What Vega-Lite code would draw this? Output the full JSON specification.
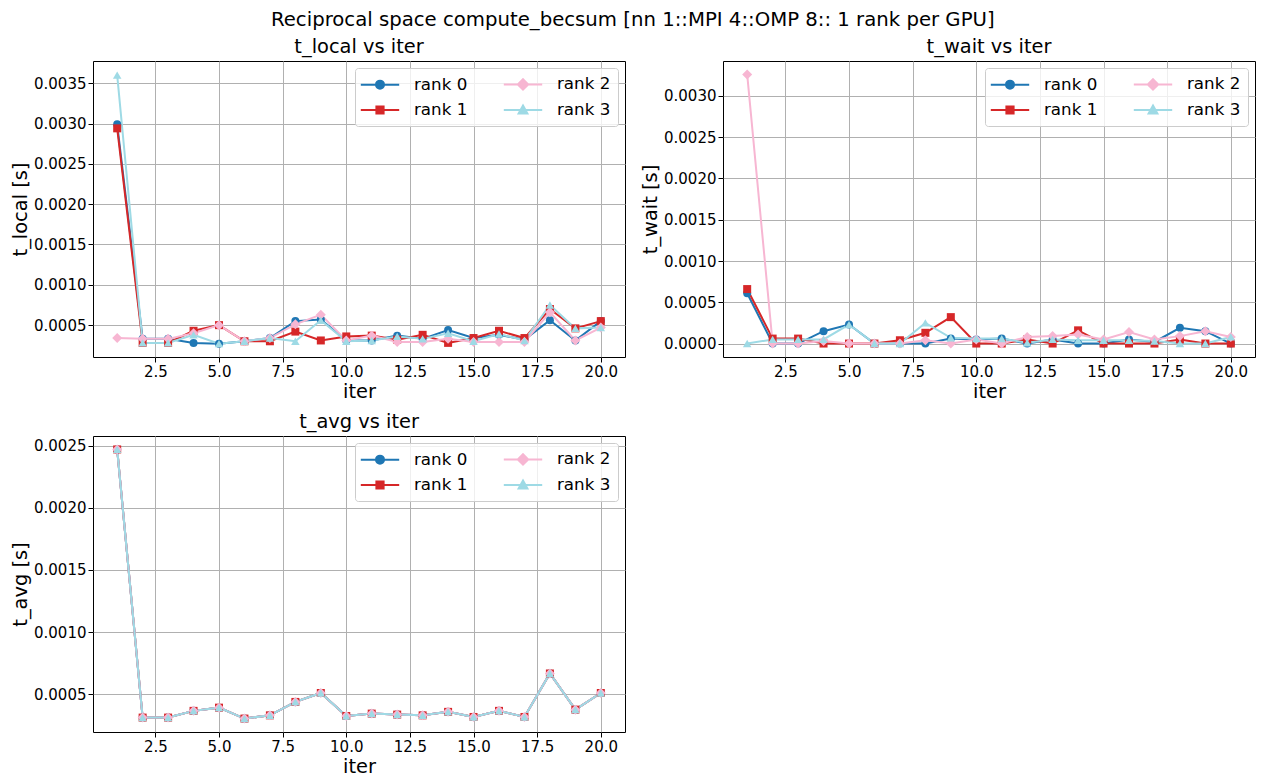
{
  "$schema": "https://vega.github.io/schema/vega-lite/v6.json",
  "background": "white",
  "padding": {"left": 10, "top": 10, "right": 2, "bottom": 2},
  "title": {"text": "Reciprocal space compute_becsum [nn 1::MPI 4::OMP 8:: 1 rank per GPU]", "fontSize": 19.7, "font": "DejaVu Sans", "fontWeight": "normal", "color": "black", "anchor": "middle", "offset": 6},
  "columns": 2,
  "spacing": {"row": 79, "column": 98},
  "bounds": "flush",
  "data": {"name": "d"},
  "datasets": {
    "d": [
      {"iter": 1, "rank": "rank 0", "t_local": 0.00299, "t_wait": 0.00061, "t_avg": 0.00247},
      {"iter": 2, "rank": "rank 0", "t_local": 0.00033, "t_wait": 0.0, "t_avg": 0.000312},
      {"iter": 3, "rank": "rank 0", "t_local": 0.00033, "t_wait": 0.0, "t_avg": 0.000312},
      {"iter": 4, "rank": "rank 0", "t_local": 0.00028, "t_wait": 0.00015, "t_avg": 0.000366},
      {"iter": 5, "rank": "rank 0", "t_local": 0.00027, "t_wait": 0.00023, "t_avg": 0.000392},
      {"iter": 6, "rank": "rank 0", "t_local": 0.0003, "t_wait": 0.0, "t_avg": 0.000304},
      {"iter": 7, "rank": "rank 0", "t_local": 0.00034, "t_wait": 0.0, "t_avg": 0.00033},
      {"iter": 8, "rank": "rank 0", "t_local": 0.00055, "t_wait": 0.0, "t_avg": 0.000438},
      {"iter": 9, "rank": "rank 0", "t_local": 0.00057, "t_wait": 0.00006, "t_avg": 0.00051},
      {"iter": 10, "rank": "rank 0", "t_local": 0.00031, "t_wait": 0.00005, "t_avg": 0.000325},
      {"iter": 11, "rank": "rank 0", "t_local": 0.00031, "t_wait": 0.00006, "t_avg": 0.000344},
      {"iter": 12, "rank": "rank 0", "t_local": 0.00037, "t_wait": 0.0, "t_avg": 0.000336},
      {"iter": 13, "rank": "rank 0", "t_local": 0.00033, "t_wait": 0.00005, "t_avg": 0.00033},
      {"iter": 14, "rank": "rank 0", "t_local": 0.00044, "t_wait": 0.0, "t_avg": 0.000358},
      {"iter": 15, "rank": "rank 0", "t_local": 0.00034, "t_wait": 0.0, "t_avg": 0.000317},
      {"iter": 16, "rank": "rank 0", "t_local": 0.00038, "t_wait": 0.00005, "t_avg": 0.000366},
      {"iter": 17, "rank": "rank 0", "t_local": 0.00032, "t_wait": 0.00002, "t_avg": 0.000317},
      {"iter": 18, "rank": "rank 0", "t_local": 0.00056, "t_wait": 0.00019, "t_avg": 0.000667},
      {"iter": 19, "rank": "rank 0", "t_local": 0.00031, "t_wait": 0.00015, "t_avg": 0.000376},
      {"iter": 20, "rank": "rank 0", "t_local": 0.00055, "t_wait": 0.0, "t_avg": 0.00051},
      {"iter": 1, "rank": "rank 1", "t_local": 0.00294, "t_wait": 0.00066, "t_avg": 0.00247},
      {"iter": 2, "rank": "rank 1", "t_local": 0.00028, "t_wait": 0.00006, "t_avg": 0.000312},
      {"iter": 3, "rank": "rank 1", "t_local": 0.00028, "t_wait": 0.00006, "t_avg": 0.000312},
      {"iter": 4, "rank": "rank 1", "t_local": 0.00043, "t_wait": 0.0, "t_avg": 0.000366},
      {"iter": 5, "rank": "rank 1", "t_local": 0.0005, "t_wait": 0.0, "t_avg": 0.000392},
      {"iter": 6, "rank": "rank 1", "t_local": 0.0003, "t_wait": 0.0, "t_avg": 0.000304},
      {"iter": 7, "rank": "rank 1", "t_local": 0.0003, "t_wait": 0.00004, "t_avg": 0.00033},
      {"iter": 8, "rank": "rank 1", "t_local": 0.00042, "t_wait": 0.00013, "t_avg": 0.000438},
      {"iter": 9, "rank": "rank 1", "t_local": 0.00031, "t_wait": 0.00032, "t_avg": 0.00051},
      {"iter": 10, "rank": "rank 1", "t_local": 0.00036, "t_wait": 0.0, "t_avg": 0.000325},
      {"iter": 11, "rank": "rank 1", "t_local": 0.00037, "t_wait": 0.0, "t_avg": 0.000344},
      {"iter": 12, "rank": "rank 1", "t_local": 0.00032, "t_wait": 0.00005, "t_avg": 0.000336},
      {"iter": 13, "rank": "rank 1", "t_local": 0.00038, "t_wait": 0.0, "t_avg": 0.00033},
      {"iter": 14, "rank": "rank 1", "t_local": 0.00028, "t_wait": 0.00016, "t_avg": 0.000358},
      {"iter": 15, "rank": "rank 1", "t_local": 0.00034, "t_wait": 0.0, "t_avg": 0.000317},
      {"iter": 16, "rank": "rank 1", "t_local": 0.00043, "t_wait": 0.0, "t_avg": 0.000366},
      {"iter": 17, "rank": "rank 1", "t_local": 0.00034, "t_wait": 0.0, "t_avg": 0.000317},
      {"iter": 18, "rank": "rank 1", "t_local": 0.0007, "t_wait": 0.00005, "t_avg": 0.000667},
      {"iter": 19, "rank": "rank 1", "t_local": 0.00046, "t_wait": 0.0, "t_avg": 0.000376},
      {"iter": 20, "rank": "rank 1", "t_local": 0.00055, "t_wait": 0.0, "t_avg": 0.00051},
      {"iter": 1, "rank": "rank 2", "t_local": 0.00034, "t_wait": 0.00326, "t_avg": 0.00247},
      {"iter": 2, "rank": "rank 2", "t_local": 0.00033, "t_wait": 0.0, "t_avg": 0.000312},
      {"iter": 3, "rank": "rank 2", "t_local": 0.00033, "t_wait": 0.0, "t_avg": 0.000312},
      {"iter": 4, "rank": "rank 2", "t_local": 0.0004, "t_wait": 0.00003, "t_avg": 0.000366},
      {"iter": 5, "rank": "rank 2", "t_local": 0.0005, "t_wait": 0.0, "t_avg": 0.000392},
      {"iter": 6, "rank": "rank 2", "t_local": 0.0003, "t_wait": 0.0, "t_avg": 0.000304},
      {"iter": 7, "rank": "rank 2", "t_local": 0.00034, "t_wait": 0.0, "t_avg": 0.00033},
      {"iter": 8, "rank": "rank 2", "t_local": 0.00051, "t_wait": 0.00004, "t_avg": 0.000438},
      {"iter": 9, "rank": "rank 2", "t_local": 0.00063, "t_wait": 0.0, "t_avg": 0.00051},
      {"iter": 10, "rank": "rank 2", "t_local": 0.00031, "t_wait": 0.00005, "t_avg": 0.000325},
      {"iter": 11, "rank": "rank 2", "t_local": 0.00037, "t_wait": 0.0, "t_avg": 0.000344},
      {"iter": 12, "rank": "rank 2", "t_local": 0.00029, "t_wait": 0.00008, "t_avg": 0.000336},
      {"iter": 13, "rank": "rank 2", "t_local": 0.00029, "t_wait": 0.00009, "t_avg": 0.00033},
      {"iter": 14, "rank": "rank 2", "t_local": 0.00033, "t_wait": 0.00011, "t_avg": 0.000358},
      {"iter": 15, "rank": "rank 2", "t_local": 0.00029, "t_wait": 0.00005, "t_avg": 0.000317},
      {"iter": 16, "rank": "rank 2", "t_local": 0.00029, "t_wait": 0.00014, "t_avg": 0.000366},
      {"iter": 17, "rank": "rank 2", "t_local": 0.00029, "t_wait": 0.00005, "t_avg": 0.000317},
      {"iter": 18, "rank": "rank 2", "t_local": 0.00066, "t_wait": 0.00009, "t_avg": 0.000667},
      {"iter": 19, "rank": "rank 2", "t_local": 0.00031, "t_wait": 0.00015, "t_avg": 0.000376},
      {"iter": 20, "rank": "rank 2", "t_local": 0.00047, "t_wait": 0.00008, "t_avg": 0.00051},
      {"iter": 1, "rank": "rank 3", "t_local": 0.0036, "t_wait": 0.0, "t_avg": 0.00247},
      {"iter": 2, "rank": "rank 3", "t_local": 0.00028, "t_wait": 0.00005, "t_avg": 0.000312},
      {"iter": 3, "rank": "rank 3", "t_local": 0.00028, "t_wait": 0.00005, "t_avg": 0.000312},
      {"iter": 4, "rank": "rank 3", "t_local": 0.00038, "t_wait": 0.00005, "t_avg": 0.000366},
      {"iter": 5, "rank": "rank 3", "t_local": 0.00027, "t_wait": 0.00023, "t_avg": 0.000392},
      {"iter": 6, "rank": "rank 3", "t_local": 0.0003, "t_wait": 0.0, "t_avg": 0.000304},
      {"iter": 7, "rank": "rank 3", "t_local": 0.00034, "t_wait": 0.0, "t_avg": 0.00033},
      {"iter": 8, "rank": "rank 3", "t_local": 0.0003, "t_wait": 0.00025, "t_avg": 0.000438},
      {"iter": 9, "rank": "rank 3", "t_local": 0.00056, "t_wait": 0.00007, "t_avg": 0.00051},
      {"iter": 10, "rank": "rank 3", "t_local": 0.0003, "t_wait": 0.00006, "t_avg": 0.000325},
      {"iter": 11, "rank": "rank 3", "t_local": 0.00031, "t_wait": 0.00006, "t_avg": 0.000344},
      {"iter": 12, "rank": "rank 3", "t_local": 0.00036, "t_wait": 0.00001, "t_avg": 0.000336},
      {"iter": 13, "rank": "rank 3", "t_local": 0.00033, "t_wait": 0.00005, "t_avg": 0.00033},
      {"iter": 14, "rank": "rank 3", "t_local": 0.0004, "t_wait": 0.00004, "t_avg": 0.000358},
      {"iter": 15, "rank": "rank 3", "t_local": 0.0003, "t_wait": 0.00004, "t_avg": 0.000317},
      {"iter": 16, "rank": "rank 3", "t_local": 0.00039, "t_wait": 0.00004, "t_avg": 0.000366},
      {"iter": 17, "rank": "rank 3", "t_local": 0.00031, "t_wait": 0.00003, "t_avg": 0.000317},
      {"iter": 18, "rank": "rank 3", "t_local": 0.00075, "t_wait": 0.0, "t_avg": 0.000667},
      {"iter": 19, "rank": "rank 3", "t_local": 0.00046, "t_wait": 0.0, "t_avg": 0.000376},
      {"iter": 20, "rank": "rank 3", "t_local": 0.00047, "t_wait": 0.00008, "t_avg": 0.00051}
    ]
  },
  "concat": [
    {
      "width": 532, "height": 296,
      "title": {"text": "t_local vs iter"},
      "encoding": {
        "x": {"field": "iter", "type": "quantitative", "scale": {"domain": [0.05, 20.95], "nice": false, "zero": false}, "axis": {"title": "iter", "values": [2.5, 5, 7.5, 10, 12.5, 15, 17.5, 20], "format": ".1f"}},
        "y": {"field": "t_local", "type": "quantitative", "scale": {"domain": [0.000105, 0.003775], "nice": false, "zero": false}, "axis": {"title": "t_local [s]", "values": [0.0005, 0.001, 0.0015, 0.002, 0.0025, 0.003, 0.0035], "format": ".4f"}}
      },
      "layer": [
        {"mark": {"type": "line", "strokeWidth": 2},
         "encoding": {
           "color": {"field": "rank", "type": "nominal", "scale": {"domain": ["rank 0", "rank 1", "rank 2", "rank 3"], "range": ["#1f77b4", "#d62728", "#f7b6d2", "#9edae5"]},
             "legend": {"title": null, "orient": "top-right", "offset": 7, "columns": 2, "labelFontSize": 16.7, "labelFont": "DejaVu Sans", "labelColor": "black", "symbolSize": 256, "symbolOffset": 9, "labelOffset": 25, "rowPadding": 7, "columnPadding": 31, "padding": 7, "fillColor": "rgba(255,255,255,0.8)", "strokeColor": "#cccccc", "cornerRadius": 3, "symbolStrokeWidth": 2,
               "symbolType": {"expr": "datum.value === 'rank 0' ? 'M-2.4,0H2.4M-0.5,0A0.5,0.5,0,1,0,0.5,0A0.5,0.5,0,1,0,-0.5,0Z' : datum.value === 'rank 1' ? 'M-2.4,0H2.4M-0.45,-0.45H0.45V0.45H-0.45Z' : datum.value === 'rank 2' ? 'M-2.4,0H2.4M0,-0.65L0.65,0L0,0.65L-0.65,0Z' : 'M-2.4,0H2.4M0,-0.55L0.55,0.45L-0.55,0.45Z'"},
               "symbolFillColor": {"expr": "datum.value === 'rank 0' ? '#1f77b4' : datum.value === 'rank 1' ? '#d62728' : datum.value === 'rank 2' ? '#f7b6d2' : '#9edae5'"}}}
         }},
        {"transform": [{"filter": "datum.rank === 'rank 0'"}], "mark": {"type": "point", "shape": "circle", "filled": true, "size": 64, "opacity": 1, "color": "#1f77b4"}},
        {"transform": [{"filter": "datum.rank === 'rank 1'"}], "mark": {"type": "point", "shape": "square", "filled": true, "size": 64, "opacity": 1, "color": "#d62728"}},
        {"transform": [{"filter": "datum.rank === 'rank 2'"}], "mark": {"type": "point", "shape": "diamond", "filled": true, "size": 100, "opacity": 1, "color": "#f7b6d2"}},
        {"transform": [{"filter": "datum.rank === 'rank 3'"}], "mark": {"type": "point", "shape": "triangle-up", "filled": true, "size": 72, "opacity": 1, "color": "#9edae5"}}
      ]
    },
    {
      "width": 532, "height": 296,
      "title": {"text": "t_wait vs iter"},
      "encoding": {
        "x": {"field": "iter", "type": "quantitative", "scale": {"domain": [0.05, 20.95], "nice": false, "zero": false}, "axis": {"title": "iter", "values": [2.5, 5, 7.5, 10, 12.5, 15, 17.5, 20], "format": ".1f"}},
        "y": {"field": "t_wait", "type": "quantitative", "scale": {"domain": [-0.000163, 0.003423], "nice": false, "zero": false}, "axis": {"title": "t_wait [s]", "values": [0, 0.0005, 0.001, 0.0015, 0.002, 0.0025, 0.003], "format": ".4f"}}
      },
      "layer": [
        {"mark": {"type": "line", "strokeWidth": 2},
         "encoding": {
           "color": {"field": "rank", "type": "nominal", "scale": {"domain": ["rank 0", "rank 1", "rank 2", "rank 3"], "range": ["#1f77b4", "#d62728", "#f7b6d2", "#9edae5"]},
             "legend": {"title": null, "orient": "top-right", "offset": 7, "columns": 2, "labelFontSize": 16.7, "labelFont": "DejaVu Sans", "labelColor": "black", "symbolSize": 256, "symbolOffset": 9, "labelOffset": 25, "rowPadding": 7, "columnPadding": 31, "padding": 7, "fillColor": "rgba(255,255,255,0.8)", "strokeColor": "#cccccc", "cornerRadius": 3, "symbolStrokeWidth": 2,
               "symbolType": {"expr": "datum.value === 'rank 0' ? 'M-2.4,0H2.4M-0.5,0A0.5,0.5,0,1,0,0.5,0A0.5,0.5,0,1,0,-0.5,0Z' : datum.value === 'rank 1' ? 'M-2.4,0H2.4M-0.45,-0.45H0.45V0.45H-0.45Z' : datum.value === 'rank 2' ? 'M-2.4,0H2.4M0,-0.65L0.65,0L0,0.65L-0.65,0Z' : 'M-2.4,0H2.4M0,-0.55L0.55,0.45L-0.55,0.45Z'"},
               "symbolFillColor": {"expr": "datum.value === 'rank 0' ? '#1f77b4' : datum.value === 'rank 1' ? '#d62728' : datum.value === 'rank 2' ? '#f7b6d2' : '#9edae5'"}}}
         }},
        {"transform": [{"filter": "datum.rank === 'rank 0'"}], "mark": {"type": "point", "shape": "circle", "filled": true, "size": 64, "opacity": 1, "color": "#1f77b4"}},
        {"transform": [{"filter": "datum.rank === 'rank 1'"}], "mark": {"type": "point", "shape": "square", "filled": true, "size": 64, "opacity": 1, "color": "#d62728"}},
        {"transform": [{"filter": "datum.rank === 'rank 2'"}], "mark": {"type": "point", "shape": "diamond", "filled": true, "size": 100, "opacity": 1, "color": "#f7b6d2"}},
        {"transform": [{"filter": "datum.rank === 'rank 3'"}], "mark": {"type": "point", "shape": "triangle-up", "filled": true, "size": 72, "opacity": 1, "color": "#9edae5"}}
      ]
    },
    {
      "width": 532, "height": 296,
      "title": {"text": "t_avg vs iter"},
      "encoding": {
        "x": {"field": "iter", "type": "quantitative", "scale": {"domain": [0.05, 20.95], "nice": false, "zero": false}, "axis": {"title": "iter", "values": [2.5, 5, 7.5, 10, 12.5, 15, 17.5, 20], "format": ".1f"}},
        "y": {"field": "t_avg", "type": "quantitative", "scale": {"domain": [0.000196, 0.002578], "nice": false, "zero": false}, "axis": {"title": "t_avg [s]", "values": [0.0005, 0.001, 0.0015, 0.002, 0.0025], "format": ".4f"}}
      },
      "layer": [
        {"mark": {"type": "line", "strokeWidth": 2},
         "encoding": {
           "color": {"field": "rank", "type": "nominal", "scale": {"domain": ["rank 0", "rank 1", "rank 2", "rank 3"], "range": ["#1f77b4", "#d62728", "#f7b6d2", "#9edae5"]},
             "legend": {"title": null, "orient": "top-right", "offset": 7, "columns": 2, "labelFontSize": 16.7, "labelFont": "DejaVu Sans", "labelColor": "black", "symbolSize": 256, "symbolOffset": 9, "labelOffset": 25, "rowPadding": 7, "columnPadding": 31, "padding": 7, "fillColor": "rgba(255,255,255,0.8)", "strokeColor": "#cccccc", "cornerRadius": 3, "symbolStrokeWidth": 2,
               "symbolType": {"expr": "datum.value === 'rank 0' ? 'M-2.4,0H2.4M-0.5,0A0.5,0.5,0,1,0,0.5,0A0.5,0.5,0,1,0,-0.5,0Z' : datum.value === 'rank 1' ? 'M-2.4,0H2.4M-0.45,-0.45H0.45V0.45H-0.45Z' : datum.value === 'rank 2' ? 'M-2.4,0H2.4M0,-0.65L0.65,0L0,0.65L-0.65,0Z' : 'M-2.4,0H2.4M0,-0.55L0.55,0.45L-0.55,0.45Z'"},
               "symbolFillColor": {"expr": "datum.value === 'rank 0' ? '#1f77b4' : datum.value === 'rank 1' ? '#d62728' : datum.value === 'rank 2' ? '#f7b6d2' : '#9edae5'"}}}
         }},
        {"transform": [{"filter": "datum.rank === 'rank 0'"}], "mark": {"type": "point", "shape": "circle", "filled": true, "size": 64, "opacity": 1, "color": "#1f77b4"}},
        {"transform": [{"filter": "datum.rank === 'rank 1'"}], "mark": {"type": "point", "shape": "square", "filled": true, "size": 64, "opacity": 1, "color": "#d62728"}},
        {"transform": [{"filter": "datum.rank === 'rank 2'"}], "mark": {"type": "point", "shape": "diamond", "filled": true, "size": 100, "opacity": 1, "color": "#f7b6d2"}},
        {"transform": [{"filter": "datum.rank === 'rank 3'"}], "mark": {"type": "point", "shape": "triangle-up", "filled": true, "size": 72, "opacity": 1, "color": "#9edae5"}}
      ]
    }
  ],
  "resolve": {"scale": {"color": "independent"}, "legend": {"color": "independent"}},
  "config": {
    "font": "DejaVu Sans",
    "view": {"stroke": "black", "strokeWidth": 1},
    "title": {"font": "DejaVu Sans", "fontSize": 19.4, "fontWeight": "normal", "color": "black", "offset": 4},
    "axis": {"labelFont": "DejaVu Sans", "labelFontSize": 15, "labelColor": "black", "titleFont": "DejaVu Sans", "titleFontSize": 19.4, "titleFontWeight": "normal", "titleColor": "black", "tickColor": "black", "tickSize": 5, "tickWidth": 1, "domain": false, "gridColor": "#b0b0b0", "gridWidth": 1, "gridOpacity": 1, "labelPadding": 2, "titlePadding": 3},
    "axisY": {"labelFlush": false},
    "axisX": {"labelFlush": false}
  }
}
